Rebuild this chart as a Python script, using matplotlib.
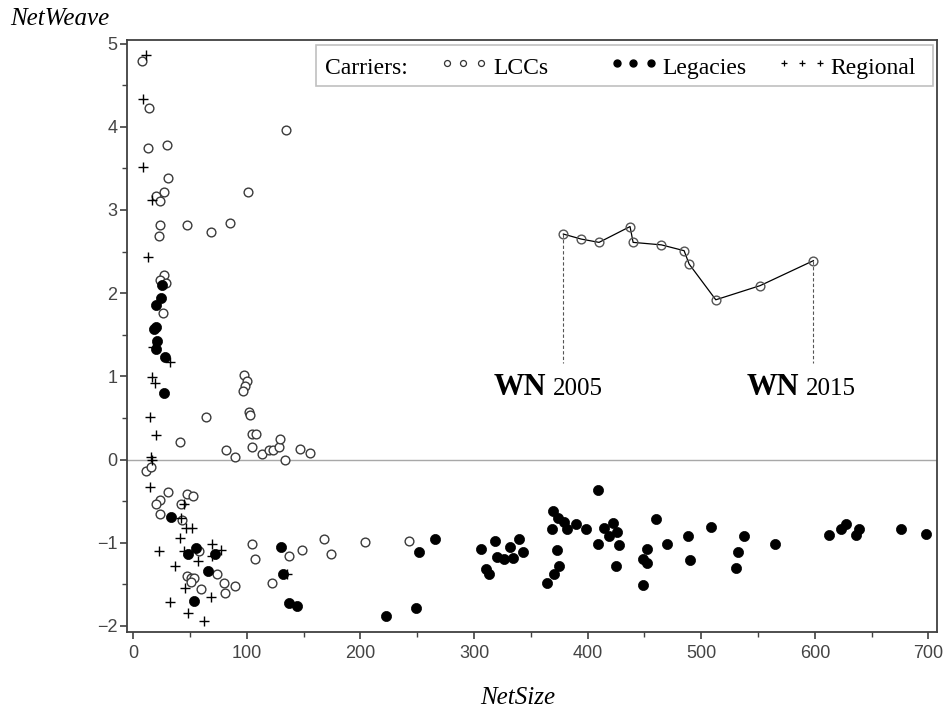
import matplotlib
matplotlib.use("Agg")
import matplotlib.pyplot as plt
from matplotlib.patches import Rectangle

# LCCs (open circles)
lcc_x = [8.0, 13.9, 134.5, 12.7, 29.5, 30.6, 27.1, 19.8, 23.9, 100.8, 23.9, 22.7, 47.4, 68.2, 85.2,
         27.1, 23.6, 28.9, 26.2,
         97.8, 100.2, 98.4, 96.4, 101.7, 103.1, 64.1, 104.3, 108.1, 40.9, 104.3, 82.0, 89.6,
         113.6, 119.8, 122.8, 128.1, 129.5, 133.6, 147.1, 155.6,
         11.5, 15.7,
         30.6, 23.9, 19.8, 47.4, 52.4, 42.1, 23.9, 43.2,
         58.2, 74.1, 47.1, 50.6, 53.8, 51.2, 59.7, 80.2, 89.6, 81.1,
         104.6, 107.5, 137.1, 148.3, 168.3, 174.4, 122.2, 204.3, 243.1]
lcc_y = [4.79, 4.22, 3.96, 3.74, 3.78, 3.38, 3.22, 3.17, 3.11, 3.22, 2.82, 2.69, 2.82, 2.73, 2.84,
         2.22, 2.16, 2.12, 1.76,
         1.01, 0.94, 0.88, 0.82, 0.57, 0.53, 0.51, 0.31, 0.31, 0.21, 0.15, 0.12, 0.03,
         0.07, 0.11, 0.12, 0.15, 0.25, -0.01, 0.13, 0.08,
         -0.14, -0.09,
         -0.39, -0.49, -0.54, -0.41, -0.44, -0.53, -0.66, -0.73,
         -1.10, -1.37, -1.40, -1.42, -1.42, -1.47, -1.56, -1.48, -1.52, -1.61,
         -1.02, -1.19, -1.16, -1.09, -0.96, -1.13, -1.48, -0.99, -0.98]

# Legacies (filled dots)
leg_x = [25.4, 24.2, 19.8, 20.3, 18.3, 21.0, 19.8, 28.3, 26.8,
         33.5, 48.5, 55.5, 71.7, 66.1, 53.8, 130.4, 131.6, 137.1, 144.5,
         265.4, 251.9, 222.3, 248.7, 305.9, 318.2, 339.3, 332.0, 343.4, 320.5, 326.4, 334.1, 310.6, 313.5,
         369.8, 373.9, 379.2, 368.9, 381.6, 390.1, 398.6, 408.9, 414.2, 422.6, 425.6, 418.6, 408.9,
         427.9, 373.1, 375.1, 370.2, 364.5, 424.7, 452.0, 449.0, 452.6, 449.0,
         460.5, 470.2, 488.1, 490.1, 508.9, 537.7, 532.1, 530.4, 565.0, 612.5, 623.0, 627.5, 638.9,
         636.0, 675.9, 697.9]
leg_y = [2.10, 1.94, 1.86, 1.59, 1.57, 1.43, 1.33, 1.23, 0.80,
         -0.69, -1.14, -1.06, -1.13, -1.34, -1.70, -1.05, -1.37, -1.73, -1.76,
         -0.95, -1.11, -1.88, -1.78, -1.07, -0.98, -0.96, -1.05, -1.11, -1.17, -1.20, -1.18, -1.32, -1.37,
         -0.62, -0.70, -0.75, -0.84, -0.84, -0.78, -0.84, -0.37, -0.82, -0.76, -0.87, -0.92, -1.02,
         -1.03, -1.09, -1.28, -1.38, -1.48, -1.28, -1.08, -1.19, -1.24, -1.51,
         -0.72, -1.02, -0.92, -1.21, -0.81, -0.92, -1.11, -1.30, -1.01, -0.91, -0.84, -0.78, -0.83,
         -0.91, -0.84, -0.90]

# Regional carriers (plus)
reg_x = [11.3, 8.9, 8.9, 16.3, 13.3, 17.4, 32.4, 16.3, 18.9, 14.5, 19.8, 15.7, 16.3,
         14.8, 44.4, 41.8, 46.5, 51.5, 41.2, 22.7, 44.4, 69.6, 77.0, 69.4, 56.8, 36.8, 45.6,
         68.2, 32.7, 48.5, 62.6, 135.1]
reg_y = [4.86, 4.33, 3.52, 3.12, 2.43, 1.35, 1.17, 0.99, 0.92, 0.51, 0.29, 0.03, -0.01,
         -0.33, -0.54, -0.70, -0.82, -0.82, -0.94, -1.10, -1.10, -1.01, -1.09, -1.16, -1.22, -1.28, -1.54,
         -1.65, -1.71, -1.84, -1.94, -1.37]

# Southwest (WN) path 2005-2015
wn_x = [378.6, 394.2, 410.0, 437.3, 440.0, 464.9, 484.9, 489.3, 512.8, 551.8, 598.7]
wn_y = [2.71, 2.65, 2.61, 2.80, 2.61, 2.58, 2.51, 2.35, 1.92, 2.09, 2.39]

serif = "Liberation Serif"
tick_font = "Liberation Sans"

fig = plt.figure(figsize=(9.53, 7.11), dpi=100)
ax = fig.add_axes([0.1333, 0.1111, 0.850, 0.8326])

ax.axhline(0, color="#a8a8a8", lw=1.0, zorder=1)

ax.plot(lcc_x, lcc_y, ls="none", marker="o", ms=6.3, mfc="white", mec="#3a3a3a", mew=1.0, zorder=3)
ax.plot(leg_x, leg_y, ls="none", marker="o", ms=7.3, mfc="black", mec="black", mew=0.5, zorder=3)
ax.plot(reg_x, reg_y, ls="none", marker="+", ms=7.5, mec="black", mew=1.0, zorder=3)

# WN trajectory
ax.plot(wn_x, wn_y, color="black", lw=0.9, marker="o", ms=6.3, mfc="none", mec="#555555", mew=1.0, zorder=4)
for xx, yy in [(wn_x[0], wn_y[0]), (wn_x[-1], wn_y[-1])]:
    ax.plot([xx, xx], [yy, 1.16], color="#555555", lw=0.8, ls=(0, (3, 2)), zorder=2)
ax.text(317, 0.775, "WN", fontfamily=serif, fontweight="bold", fontsize=22, va="baseline", ha="left")
ax.text(369, 0.775, "2005", fontfamily=serif, fontsize=18, va="baseline", ha="left")
ax.text(540, 0.775, "WN", fontfamily=serif, fontweight="bold", fontsize=22, va="baseline", ha="left")
ax.text(592, 0.775, "2015", fontfamily=serif, fontsize=18, va="baseline", ha="left")

ax.set_xlim(-5.5, 707.6)
ax.set_ylim(-2.073, 5.042)
ax.set_xticks(range(0, 701, 100))
ax.set_xticks(range(50, 701, 100), minor=True)
ax.set_yticks(range(-2, 6))
ax.set_yticks([v + 0.5 for v in range(-2, 5)], minor=True)

for s in ax.spines.values():
    s.set_color("#404040")
    s.set_linewidth(1.3)
ax.tick_params(which="major", length=5, width=1.2, color="#404040", labelsize=13, labelcolor="#444444", pad=4)
ax.tick_params(which="minor", length=3.5, width=1.0, color="#404040")
ax.tick_params(axis="y", pad=2)
for lab in ax.get_xticklabels() + ax.get_yticklabels():
    lab.set_fontfamily(tick_font)

# legend drawn by hand
ax.add_patch(Rectangle((0.2333, 0.9223), 0.7617, 0.0693, transform=ax.transAxes,
                       fill=False, ec="#c0c0c0", lw=1.2, zorder=5))
ty = 0.9426
my = 0.9606
ax.text(0.2444, ty, "Carriers:", transform=ax.transAxes, fontfamily=serif, fontsize=17, va="baseline")
ax.plot([0.3947, 0.4152, 0.4370], [my] * 3, transform=ax.transAxes, ls="none", marker="o",
        ms=4.3, mfc="white", mec="#333333", mew=0.9, clip_on=False)
ax.text(0.4519, ty, "LCCs", transform=ax.transAxes, fontfamily=serif, fontsize=17, va="baseline")
ax.plot([0.6043, 0.6251, 0.6466], [my] * 3, transform=ax.transAxes, ls="none", marker="o",
        ms=5.0, mfc="black", mec="black", clip_on=False)
ax.text(0.6605, ty, "Legacies", transform=ax.transAxes, fontfamily=serif, fontsize=17, va="baseline")
ax.plot([0.8111, 0.8330, 0.8556], [my] * 3, transform=ax.transAxes, ls="none", marker="+",
        ms=5.0, mec="black", mew=0.9, clip_on=False)
ax.text(0.8688, ty, "Regional", transform=ax.transAxes, fontfamily=serif, fontsize=17, va="baseline")

fig.text(0.0105, 0.9648, "NetWeave", fontfamily=serif, fontstyle="italic", fontsize=18, va="baseline")
fig.text(0.5435, 0.010, "NetSize", fontfamily=serif, fontstyle="italic", fontsize=18, va="baseline", ha="center")

fig.savefig("out.png", dpi=100)
